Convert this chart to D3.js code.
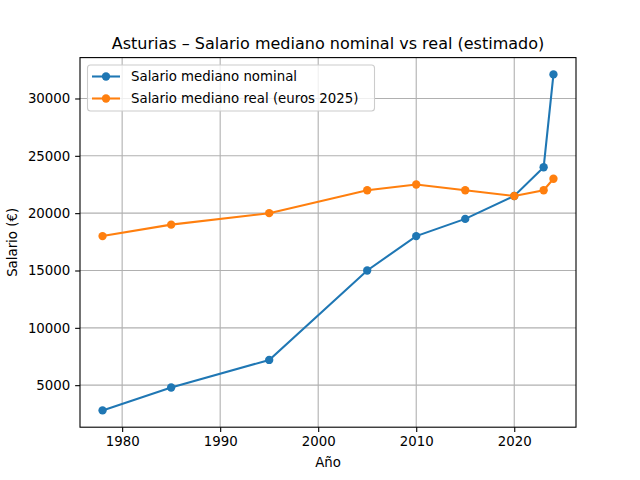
<!DOCTYPE html>
<html><head><meta charset="utf-8">
<script src="https://cdn.jsdelivr.net/npm/d3@7"></script>
<style>body{margin:0;background:#fff}svg{display:block}text{font-family:"DejaVu Sans",sans-serif}</style>
</head><body><svg id="c" width="640" height="480"></svg>
<script>
const years = [1978, 1985, 1995, 2005, 2010, 2015, 2020, 2023, 2024];
const nominal = [2800, 4800, 7200, 15000, 18000, 19500, 21500, 24000, 32100];
const real = [18000, 19000, 20000, 22000, 22500, 22000, 21500, 22000, 23000];
const xTicks = [1980, 1990, 2000, 2010, 2020];
const yTicks = [5000, 10000, 15000, 20000, 25000, 30000];
const seriesNames = ["Salario mediano nominal", "Salario mediano real (euros 2025)"];
const colors = ["#1f77b4", "#ff7f0e"];

const svg = d3.select("#c");
const L = 80, R = 576, T = 57.6, B = 427.2;
const xmin = d3.min(years), xmax = d3.max(years), xp = (xmax - xmin) * 0.05;
const allY = nominal.concat(real);
const ymin = d3.min(allY), ymax = d3.max(allY), yp = (ymax - ymin) * 0.05;
const x = d3.scaleLinear().domain([xmin - xp, xmax + xp]).range([L, R]);
const y = d3.scaleLinear().domain([ymin - yp, ymax + yp]).range([B, T]);

// grid
const g = svg.append("g");
g.selectAll(".gx").data(xTicks).enter().append("line")
  .attr("x1", d => x(d)).attr("x2", d => x(d)).attr("y1", T).attr("y2", B)
  .attr("stroke", "#b0b0b0").attr("stroke-width", 1.1);
g.selectAll(".gy").data(yTicks).enter().append("line")
  .attr("y1", d => y(d)).attr("y2", d => y(d)).attr("x1", L).attr("x2", R)
  .attr("stroke", "#b0b0b0").attr("stroke-width", 1.1);

// axes
const xAxis = d3.axisBottom(x).tickValues(xTicks).tickFormat(d3.format("d")).tickSizeOuter(0).tickSizeInner(4.86).tickPadding(4.86);
const yAxis = d3.axisLeft(y).tickValues(yTicks).tickFormat(d3.format("d")).tickSizeOuter(0).tickSizeInner(4.86).tickPadding(4.86);
const gx = svg.append("g").attr("transform", `translate(0,${B})`).call(xAxis);
const gy = svg.append("g").attr("transform", `translate(${L},0)`).call(yAxis);
[gx, gy].forEach(a => {
  a.select(".domain").remove();
  a.selectAll("text").attr("font-size", "13.33px").attr("fill", "#000").attr("font-family", "DejaVu Sans");
  a.selectAll("line").attr("stroke", "#000").attr("stroke-width", 1.1);
});

// series
const data = [nominal, real];
data.forEach((vals, i) => {
  const pts = years.map((yr, j) => [yr, vals[j]]);
  svg.append("path").datum(pts)
    .attr("d", d3.line().x(d => x(d[0])).y(d => y(d[1])))
    .attr("fill", "none").attr("stroke", colors[i]).attr("stroke-width", 2.08);
  svg.selectAll(".p" + i).data(pts).enter().append("circle")
    .attr("cx", d => x(d[0])).attr("cy", d => y(d[1])).attr("r", 4.17)
    .attr("fill", colors[i]);
});

// frame
svg.append("rect").attr("x", L).attr("y", T).attr("width", R - L).attr("height", B - T)
  .attr("fill", "none").attr("stroke", "#000").attr("stroke-width", 1.1);

// legend
const lg = svg.append("g");
lg.append("rect").attr("x", 87.5).attr("y", 65).attr("width", 287).attr("height", 46)
  .attr("rx", 3).attr("fill", "#fff").attr("fill-opacity", 0.8).attr("stroke", "#cccccc").attr("stroke-width", 1.1);
seriesNames.forEach((n, i) => {
  const yy = 76.5 + i * 22;
  lg.append("line").attr("x1", 92).attr("x2", 120).attr("y1", yy).attr("y2", yy)
    .attr("stroke", colors[i]).attr("stroke-width", 2.08);
  lg.append("circle").attr("cx", 106).attr("cy", yy).attr("r", 4.17).attr("fill", colors[i]);
  lg.append("text").attr("x", 131).attr("y", yy + 4.8).attr("font-size", "13.33px").text(n);
});

// labels
svg.append("text").attr("x", (L + R) / 2).attr("y", 49).attr("text-anchor", "middle")
  .attr("font-size", "16px").text("Asturias – Salario mediano nominal vs real (estimado)");
svg.append("text").attr("x", (L + R) / 2).attr("y", 467).attr("text-anchor", "middle")
  .attr("font-size", "13.33px").text("Año");
svg.append("text").attr("transform", `translate(17,${(T + B) / 2}) rotate(-90)`).attr("text-anchor", "middle")
  .attr("font-size", "13.33px").text("Salario (€)");
</script></body></html>
